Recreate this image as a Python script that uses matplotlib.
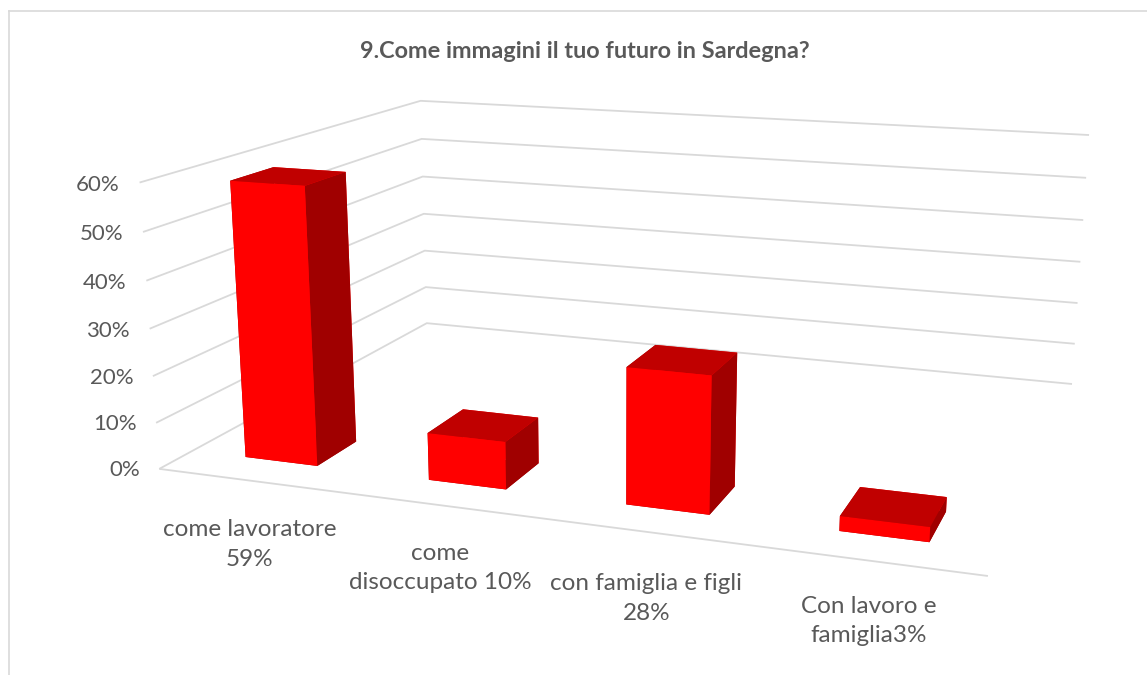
#!/usr/bin/env python3
import numpy as np
import matplotlib
matplotlib.use("Agg")
import matplotlib.pyplot as plt
from matplotlib.lines import Line2D
from mpl_toolkits.mplot3d.art3d import Line3DCollection

plt.rcParams["font.family"] = ["Lato", "DejaVu Sans"]

TITLE = "9.Come immagini il tuo futuro in Sardegna?"
CATEGORIES = ["come lavoratore\n59%", "come\ndisoccupato 10%", "con famiglia e figli\n28%", "Con lavoro e\nfamiglia3%"]
VALUES = [59, 10, 28, 3]
TICKS = [0, 10, 20, 30, 40, 50, 60]

WIDTH, HEIGHT = 1147, 675
TEXT = "#595959"
GRID = "#d9d9d9"
# bottom, top, front, back, left, right
FACE_COLORS = ["#a00000", "#c00000", "#ff0000", "#ff0000", "#a00000", "#a00000"]

BAR_WIDTH = 0.4
DEPTH_FRONT = 0.10
DEPTH_BACK = 0.235
N = len(CATEGORIES)
ZMAX = TICKS[-1]

# where the corners of the chart box land in the picture, (x, depth, z) -> pixel
BOX_CORNERS = [
    ((0, 0, 0), (159.3, 468.7)),
    ((0, 1, 0), (426.7, 323.3)),
    ((N, 1, 0), (1072, 384)),
    ((N, 0, 0), (988, 576)),
    ((0, 1, ZMAX), (420.7, 100.7)),
    ((N, 1, ZMAX), (1089, 135)),
    ((0, 0, ZMAX), (139.5, 182.7)),
]
# label centres in pixels, these don't follow the floor
LABEL_PIXELS = [(249.5, 544.5), (440, 568), (646.5, 598.5), (869, 621)]


def fit_camera():
    """least squares 3x4 camera matrix from the box corners"""
    rows = []
    for (x, y, z), (u, v) in BOX_CORNERS:
        rows.append([x, y, z, 1, 0, 0, 0, 0, -u * x, -u * y, -u * z, -u])
        rows.append([0, 0, 0, 0, x, y, z, 1, -v * x, -v * y, -v * z, -v])
    _, _, vt = np.linalg.svd(np.array(rows, dtype=float))
    return vt[-1].reshape(3, 4)


CAMERA = fit_camera()


def to_pixel(x, y, z):
    u, v, w = CAMERA @ np.array([x, y, z, 1.0])
    return u / w, v / w


fig = plt.figure(figsize=(WIDTH / 100, HEIGHT / 100), dpi=100)
ax = fig.add_axes([0, 0, 1, 1], projection="3d")
ax.apply_aspect = lambda position=None: None  # keep the axes full figure
ax.set_axis_off()
ax.computed_zorder = False


def get_proj():
    # picture pixels -> 2d data of the axes
    flip = np.array([[1, 0, 0], [0, -1, HEIGHT], [0, 0, 1]], dtype=float)
    to_data = ax.transData.inverted().get_affine().get_matrix()
    cam = to_data @ flip @ CAMERA
    # third row only orders the faces: far first, then left and bottom
    depth = np.array([-0.01, 1, -0.001, 0]) * cam[2, 3]
    return np.vstack([cam[0], cam[1], depth, cam[2]])


ax.get_proj = get_proj

# gridlines on the two walls
segments = [[(0, 0, 0), (N, 0, 0)]]
for tick in TICKS:
    segments.append([(0, 0, tick), (0, 1, tick), (N, 1, tick)])
ax.add_collection3d(Line3DCollection(segments, colors=GRID, linewidths=1.3, zorder=1), autolim=False)

for i, value in enumerate(VALUES):
    ax.bar3d(i + (1 - BAR_WIDTH) / 2, DEPTH_FRONT, 0, BAR_WIDTH, DEPTH_BACK - DEPTH_FRONT, value,
             color=FACE_COLORS, shade=False, edgecolor="none", zorder=2 + i)

for tick in TICKS:
    px, py = to_pixel(-0.11, 0, tick)
    fig.text(px / WIDTH, 1 - (py + 4) / HEIGHT, "{}%".format(tick), ha="right", va="center", color=TEXT, fontsize=16)

for label, (px, py) in zip(CATEGORIES, LABEL_PIXELS):
    fig.text(px / WIDTH, 1 - py / HEIGHT, label, ha="center", va="center", ma="center", color=TEXT,
             fontsize=17.5, linespacing=1.48)

fig.text(585 / WIDTH, 1 - 52 / HEIGHT, TITLE, ha="center", va="center", color=TEXT, fontsize=16.9, fontweight="bold")

# chart frame, only top and left are inside the crop
fig.add_artist(Line2D([8.5 / WIDTH, 1], [1 - 10.5 / HEIGHT] * 2, color=GRID, lw=1.2))
fig.add_artist(Line2D([8.5 / WIDTH] * 2, [1 - 10.5 / HEIGHT, 0], color=GRID, lw=1.2))

fig.savefig("out.png", dpi=100, facecolor="white")
